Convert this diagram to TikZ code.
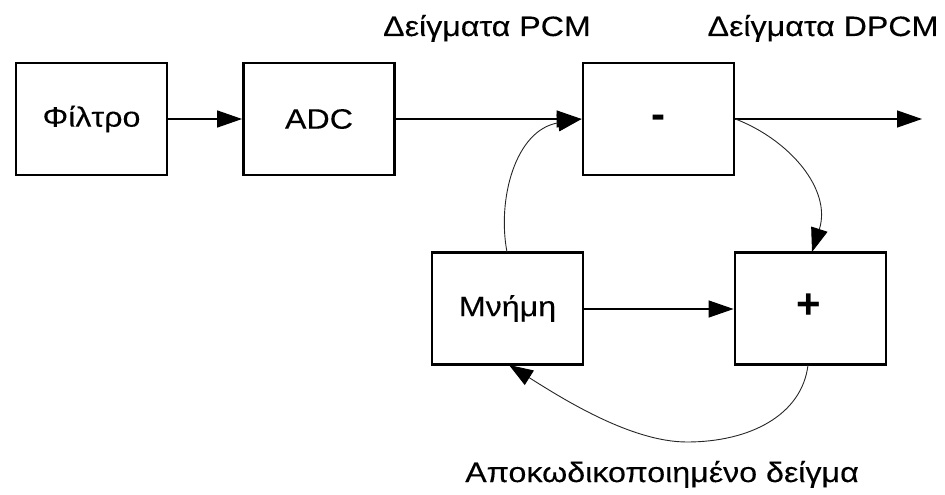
\documentclass[tikz,border=0pt]{standalone}
\usepackage{fontspec}
\setmainfont{Liberation Sans}[FakeStretch=1.15,FakeBold=0.2]
\newfontfamily\symfont{Liberation Sans Bold}
\usetikzlibrary{arrows.meta}
\tikzset{
  txt/.style={font=\fontsize{28}{32}\selectfont},
  blk/.style={draw, line width=2.8pt, minimum width=151pt, minimum height=112pt, inner sep=0pt, txt},
  lbl/.style={anchor=base, inner sep=0pt, txt},
  sym/.style={inner sep=0pt, font=\symfont\fontsize{42}{44}\selectfont},
  conn/.style={line width=1.3pt, -{Triangle[length=25pt,width=17pt]}},
  curv/.style={line width=0.9pt, draw=black!85, -{Triangle[length=24pt,width=17pt,color=black]}}
}
\begin{document}
\begin{tikzpicture}[x=1pt,y=-1pt]
\useasboundingbox (0,0) rectangle (945,495);
\node[blk] (filt) at (91.5,119) {Φίλτρο};
\node[blk] (adc) at (319,119) {ADC};
\node[blk] (minus) at (658.5,119) {};
\node[blk] (mem) at (507.5,308.5) {Μνήμη};
\node[blk] (plus) at (810.5,308.5) {};
\node[sym] (minussym) at (658.5,122) {-};
\node[sym] (plussym) at (809,306) {+};
\coordinate (out) at (922,119);
\node[lbl] (pcm) at (487,36) {Δείγματα PCM};
\node[lbl] (dpcm) at (823,36) {Δείγματα DPCM};
\node[lbl] (dec) at (662,482) {Αποκωδικοποιημένο δείγμα};
\draw[conn] (filt.east) -- (adc.west);
\draw[conn] (adc.east) -- (minus.west);
\draw[conn] (minus.east) -- (out);
\draw[conn] (mem.east |- 0,309) -- (plus.west |- 0,309);
\draw[curv] (507,252) .. controls (497,200) and (515,130) .. (minus.west);
\draw[curv] (minus.east) .. controls (790,140) and (832,190) .. (812,252);
\draw[curv] (808,365) .. controls (802,415) and (750,442) .. (687,442) .. controls (630,442) and (560,397) .. (509,365);
\end{tikzpicture}
\end{document}
